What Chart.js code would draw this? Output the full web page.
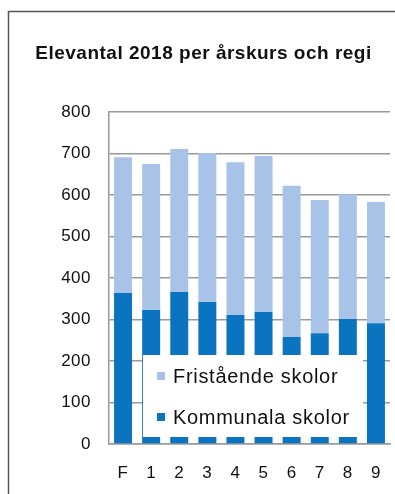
<!DOCTYPE html>
<html lang="sv">
<head>
<meta charset="utf-8">
<title>Elevantal 2018</title>
<script src="https://cdn.jsdelivr.net/npm/chart.js@4/dist/chart.umd.min.js"></script>
<style>
  html, body { margin: 0; padding: 0; background: #fff; }
  #wrap { width: 395px; height: 494px; position: relative; }
</style>
</head>
<body>
<div id="wrap"><canvas id="chart"></canvas></div>
<script>
// elevantal per årskurs, uppdelat på huvudman
const grades = ['F', '1', '2', '3', '4', '5', '6', '7', '8', '9'];
const kommunala = [364, 323, 366, 342, 311, 318, 258, 267, 301, 291];
const fristaende = [327, 352, 345, 359, 368, 376, 364, 321, 301, 292];
const yTicks = [0, 100, 200, 300, 400, 500, 600, 700, 800];

const darkBlue = '#0a74c0';
const lightBlue = '#a8c3e8';
const font = 'Liberation Sans, Arial, sans-serif';

// ram runt hela diagrammet + lite bokstavsavstånd som i originalet
const frame = {
    id: 'frame',
    beforeDraw(chart) {
        const c = chart.ctx;
        c.letterSpacing = '0.5px';
        c.save();
        c.strokeStyle = '#555';
        c.lineWidth = 1.5;
        c.strokeRect(8.5, 11.5, 420, 520);
        c.restore();
    }
};

// förklaringen ligger som en vit ruta ovanpå staplarna
const boxLegend = {
    id: 'boxLegend',
    afterDatasetsDraw(chart) {
        const c = chart.ctx, a = chart.chartArea;
        const x0 = a.left + 34, x1 = a.right - 27;
        const y0 = 355, y1 = a.bottom - 7;
        c.save();
        c.fillStyle = '#fff';
        c.fillRect(x0, y0, x1 - x0, y1 - y0);
        c.font = '20px ' + font;
        c.letterSpacing = '0.7px';
        c.textBaseline = 'middle';
        const items = chart.data.datasets.slice().reverse();
        const rows = [376, 417];
        items.forEach((ds, i) => {
            c.fillStyle = ds.backgroundColor;
            c.fillRect(x0 + 14, rows[i] - 4, 8, 8);
            c.fillStyle = '#111';
            c.fillText(ds.label, x0 + 30, rows[i] + 1);
        });
        c.restore();
    }
};

new Chart(document.getElementById('chart'), {
    type: 'bar',
    data: {
        labels: grades,
        datasets: [
            { label: 'Kommunala skolor', data: kommunala, backgroundColor: darkBlue },
            { label: 'Fristående skolor', data: fristaende, backgroundColor: lightBlue }
        ]
    },
    options: {
        responsive: true,
        maintainAspectRatio: false,
        animation: false,
        datasets: { bar: { categoryPercentage: 1, barPercentage: 0.64 } },
        layout: { padding: { left: 17, right: 5, top: 0, bottom: 0 } },
        plugins: {
            legend: { display: false },
            tooltip: { enabled: false },
            title: {
                display: true,
                text: 'Elevantal 2018 per årskurs och regi',
                color: '#111',
                font: { family: font, size: 19, weight: 'bold', lineHeight: 1.2 },
                padding: { top: 42.6, bottom: 46.6 }
            }
        },
        scales: {
            x: {
                stacked: true,
                grid: { display: false },
                border: { display: true, color: '#999', width: 1.5 },
                ticks: { color: '#111', padding: 11, font: { family: font, size: 17 } },
                afterFit(s) { s.height = 50; }
            },
            y: {
                stacked: true,
                min: 0,
                max: 800,
                afterBuildTicks(s) { s.ticks = yTicks.map(v => ({ value: v })); },
                grid: { color: '#999', lineWidth: 1.5, drawTicks: false },
                border: { display: true, color: '#999', width: 1.5 },
                ticks: { color: '#111', padding: 18, font: { family: font, size: 17 } },
                afterFit(s) { s.width = 92; }
            }
        }
    },
    plugins: [frame, boxLegend]
});
</script>
</body>
</html>
